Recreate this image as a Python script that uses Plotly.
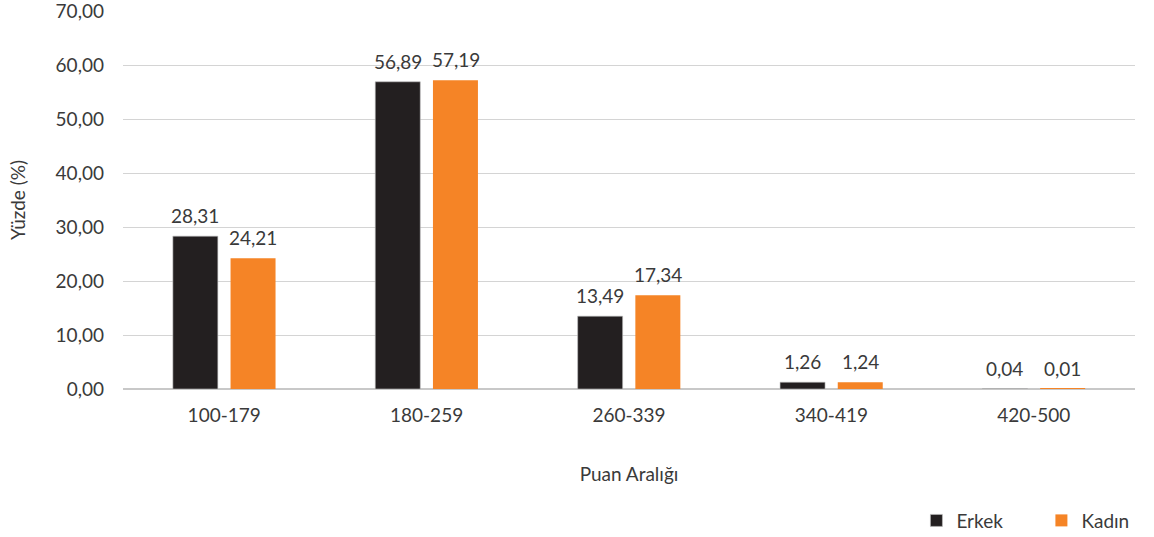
import plotly.graph_objects as go

categories = ["100-179", "180-259", "260-339", "340-419", "420-500"]
erkek = [28.31, 56.89, 13.49, 1.26, 0.04]
kadin = [24.21, 57.19, 17.34, 1.24, 0.01]
y_ticks = [0, 10, 20, 30, 40, 50, 60, 70]
y_tick_labels = ["0,00", "10,00", "20,00", "30,00", "40,00", "50,00", "60,00", "70,00"]

def fmt(v):
    return f"{v:.2f}".replace(".", ",")

font_family = "Lato, Open Sans, sans-serif"
text_color = "#3a3a3a"
fs = 19

fig = go.Figure()
fig.add_trace(go.Bar(
    x=categories, y=erkek, name="Erkek",
    marker=dict(color="#231F20", line=dict(color="#bfbfbf", width=0.6)),
))
fig.add_trace(go.Bar(
    x=categories, y=kadin, name="Kadın",
    marker=dict(color="#F58426", line=dict(color="#F58426", width=0)),
))

# value labels placed above each bar
for series, shift in ((erkek, -29), (kadin, 29)):
    for cat, v in zip(categories, series):
        fig.add_annotation(
            x=cat, y=v, xref="x", yref="y", text=fmt(v), showarrow=False,
            xshift=shift, yshift=7, yanchor="bottom",
            font=dict(size=fs, color=text_color, family=font_family),
        )

fig.update_layout(
    width=1154, height=537,
    margin=dict(l=123, r=19, t=11, b=148, autoexpand=False),
    paper_bgcolor="white", plot_bgcolor="white",
    font=dict(family=font_family, size=fs, color=text_color),
    barmode="group", bargap=0.43, bargroupgap=0.22,
    showlegend=True,
    legend=dict(orientation="h", x=0.784, xanchor="left", y=-0.348, yanchor="middle",
                font=dict(size=fs, color=text_color), itemwidth=30,
                entrywidth=80, traceorder="normal"),
    xaxis=dict(
        title=dict(text="Puan Aralığı", standoff=42, font=dict(size=fs)),
        showgrid=False, showline=False, ticks="",
        tickfont=dict(size=fs), automargin=False, ticklabelstandoff=13,
    ),
    yaxis=dict(
        title=dict(text="Yüzde (%)", standoff=24, font=dict(size=fs)),
        range=[0, 70], tickvals=y_ticks, ticktext=y_tick_labels,
        showgrid=True, gridcolor="#d4d4d4", gridwidth=1,
        zeroline=True, zerolinecolor="#c8c8c8", zerolinewidth=1.5,
        ticks="", ticklabelstandoff=18, ticklabeloverflow="allow",
        tickfont=dict(size=fs), automargin=False,
    ),
)
fig.write_html("out.html", config={"displayModeBar": False},
               post_script="document.body.style.margin='0';")
